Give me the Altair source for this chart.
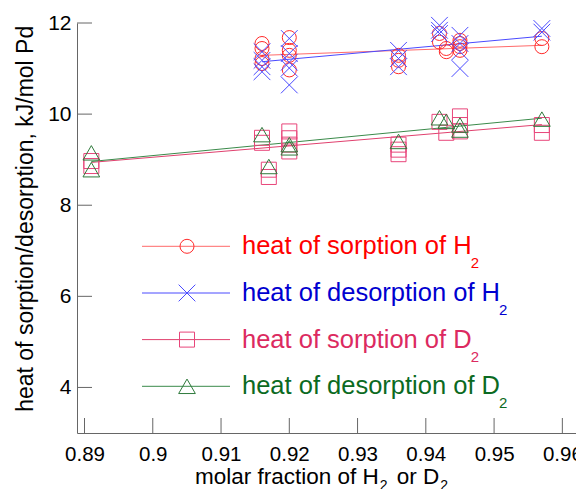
import altair as alt
import pandas as pd

FONT = "Liberation Sans"

# ---------------- data ----------------
h2_sorp_x = [0.916, 0.916, 0.916, 0.916, 0.92, 0.92, 0.92, 0.92, 0.936, 0.936, 0.936,
             0.942, 0.942, 0.943, 0.943, 0.945, 0.945, 0.945, 0.945, 0.957, 0.957]
h2_sorp_y = [11.55, 11.44, 11.22, 11.11, 11.68, 11.40, 11.29, 10.97, 11.29, 11.18, 11.04,
             11.77, 11.58, 11.44, 11.37, 11.62, 11.55, 11.48, 11.40, 11.66, 11.48]

h2_desorp_x = [0.916, 0.916, 0.916, 0.916, 0.92, 0.92, 0.92, 0.92, 0.92, 0.936, 0.936, 0.936,
               0.942, 0.942, 0.942, 0.945, 0.945, 0.945, 0.945, 0.957, 0.957]
h2_desorp_y = [11.37, 11.18, 11.04, 10.93, 11.66, 11.33, 11.14, 11.01, 10.64, 11.40, 11.22, 11.04,
               11.95, 11.84, 11.77, 11.73, 11.55, 11.37, 11.00, 11.88, 11.80]

d2_sorp_x = [0.891, 0.891, 0.916, 0.916, 0.917, 0.917, 0.92, 0.92, 0.92, 0.92,
             0.936, 0.936, 0.936, 0.942, 0.943, 0.945, 0.945, 0.945, 0.957, 0.957]
d2_sorp_y = [8.97, 8.86, 9.48, 9.37, 8.78, 8.62, 9.62, 9.47, 9.33, 9.18,
             9.33, 9.22, 9.12, 9.83, 9.59, 9.95, 9.76, 9.62, 9.76, 9.59]

d2_desorp_x = [0.891, 0.891, 0.916, 0.917, 0.92, 0.92, 0.936, 0.942, 0.943, 0.945, 0.945, 0.957]
d2_desorp_y = [9.15, 8.78, 9.55, 8.85, 9.33, 9.26, 9.40, 9.92, 9.84, 9.76, 9.65, 9.89]

# fitted lines (end points)
h2_sorp_fit_x = [0.916, 0.957]
h2_sorp_fit_y = [11.29, 11.51]
h2_desorp_fit_x = [0.916, 0.957]
h2_desorp_fit_y = [11.15, 11.71]
d2_sorp_fit_x = [0.891, 0.957]
d2_sorp_fit_y = [8.94, 9.77]
d2_desorp_fit_x = [0.891, 0.957]
d2_desorp_fit_y = [8.96, 9.91]

x_ticks = [0.89, 0.90, 0.91, 0.92, 0.93, 0.94, 0.95, 0.96]
y_ticks = [4, 6, 8, 10, 12]

legend_main = ["heat of sorption of H", "heat of desorption of H",
               "heat of sorption of D", "heat of desorption of D"]
legend_sub = ["2", "2", "2", "2"]

# ---------------- styles ----------------
X_PATH = "M-1,-1L1,1M1,-1L-1,1"
series = [
    # (x, y, fit_x, fit_y, shape, size, marker color, line color, text color)
    (h2_sorp_x, h2_sorp_y, h2_sorp_fit_x, h2_sorp_fit_y, "circle", 196, "#ff2a2a", "#ff6a6a", "#ff0000"),
    (h2_desorp_x, h2_desorp_y, h2_desorp_fit_x, h2_desorp_fit_y, X_PATH, 279, "#4a4aff", "#4a4aff", "#0000d0"),
    (d2_sorp_x, d2_sorp_y, d2_sorp_fit_x, d2_sorp_fit_y, "square", 225, "#e8457a", "#e0406e", "#dc2a60"),
    (d2_desorp_x, d2_desorp_y, d2_desorp_fit_x, d2_desorp_fit_y, "triangle-up", 279, "#2f7a3c", "#3a8a4a", "#0b6a22"),
]

AW = {' ': 278, 'a': 556, 'b': 556, 'c': 500, 'd': 556, 'e': 556, 'f': 278, 'h': 556, 'i': 222,
      'l': 222, 'm': 833, 'n': 556, 'o': 556, 'p': 556, 'r': 333, 's': 500, 't': 278,
      'D': 722, 'H': 722, '2': 556}


def tw(s, fs):
    return sum(AW.get(c, 556) for c in s) / 1000.0 * fs


W, H = 499, 410
x_scale = alt.Scale(domain=[0.8889, 0.962], nice=False, zero=False)
y_scale = alt.Scale(domain=[3, 12], nice=False, zero=False)

x_axis = alt.Axis(values=x_ticks, format="~g", ticks=False, grid=False, domainColor="#666666",
                  labelFont=FONT, labelFontSize=20.5, labelColor="black", labelPadding=11,
                  labelOverlap=False, labelFlush=False, title=None)
y_axis = alt.Axis(values=y_ticks, ticks=False, grid=False, domainColor="#666666",
                  labelFont=FONT, labelFontSize=21, labelColor="black", labelPadding=6,
                  labelOverlap=False, labelFlush=False, title=None)


def X(field="x"):
    return alt.X(f"{field}:Q", scale=x_scale, axis=x_axis)


def Y(field="y"):
    return alt.Y(f"{field}:Q", scale=y_scale, axis=y_axis)


layers = []
one = pd.DataFrame({"a": [0]})

# inward ticks
layers.append(alt.Chart(pd.DataFrame({"x": x_ticks})).mark_rule(color="#666666", strokeWidth=1)
              .encode(x=X(), y=alt.value(H), y2=alt.value(H - 15)))
layers.append(alt.Chart(pd.DataFrame({"y": y_ticks})).mark_rule(color="#666666", strokeWidth=1)
              .encode(y=Y(), x=alt.value(0), x2=alt.value(15)))

for (xs, ys, fx, fy, shape, size, mcol, lcol, tcol) in series:
    layers.append(alt.Chart(pd.DataFrame({"x": fx, "y": fy})).mark_line(color=lcol, strokeWidth=1)
                  .encode(x=X(), y=Y()))
for (xs, ys, fx, fy, shape, size, mcol, lcol, tcol) in series:
    layers.append(alt.Chart(pd.DataFrame({"x": xs, "y": ys}))
                  .mark_point(shape=shape, size=size, filled=False, color=mcol, strokeWidth=1, opacity=1)
                  .encode(x=X(), y=Y()))

# legend
row_y = [223.3, 270.0, 316.6, 363.3]
LFS = 25.5
for i, (xs, ys, fx, fy, shape, size, mcol, lcol, tcol) in enumerate(series):
    ry = row_y[i]
    layers.append(alt.Chart(one).mark_rule(color=lcol, strokeWidth=1)
                  .encode(x=alt.value(65), x2=alt.value(153), y=alt.value(ry)))
    layers.append(alt.Chart(one).mark_point(shape=shape, size=size, filled=False, color=mcol,
                                            strokeWidth=1, opacity=1)
                  .encode(x=alt.value(110), y=alt.value(ry)))
    layers.append(alt.Chart(one).mark_text(text=legend_main[i], align="left", baseline="alphabetic",
                                           font=FONT, fontSize=LFS, color=tcol)
                  .encode(x=alt.value(165), y=alt.value(ry + 8)))
    layers.append(alt.Chart(one).mark_text(text=legend_sub[i], align="left", baseline="alphabetic",
                                           font=FONT, fontSize=15, color=tcol)
                  .encode(x=alt.value(165 + tw(legend_main[i], LFS) - 1), y=alt.value(ry + 22)))

# x title with subscripts
TFS = 22.5
SFS = 14
t1 = "molar fraction of H"
x0 = 118
xs1 = x0 + tw(t1, TFS) + 1
x2p = xs1 + tw("2", SFS) + tw(" ", TFS) + 3
xs2 = x2p + tw("or D", TFS) + 1
MAIN_BL = 461
SUB_BL = 466.5
for txt, xx, yy, fs in [(t1, x0, MAIN_BL, TFS), ("2", xs1, SUB_BL, SFS),
                        ("or D", x2p, MAIN_BL, TFS), ("2", xs2, SUB_BL, SFS)]:
    layers.append(alt.Chart(one).mark_text(text=txt, align="left", baseline="alphabetic",
                                           font=FONT, fontSize=fs, color="black")
                  .encode(x=alt.value(xx), y=alt.value(yy)))

# y title
layers.append(alt.Chart(one).mark_text(text="heat of sorption/desorption, kJ/mol Pd", angle=270,
                                       align="center", baseline="alphabetic", font=FONT,
                                       fontSize=23, color="black")
              .encode(x=alt.value(-44), y=alt.value(195.8)))

chart = alt.layer(*layers).properties(
    width=W, height=H,
    padding={"left": 69, "top": 15, "right": 0, "bottom": 56},
    autosize=alt.AutoSizeParams(type="none"),
).configure_view(stroke=None)

chart.save("out.html", embed_options={"renderer": "svg", "actions": False})
